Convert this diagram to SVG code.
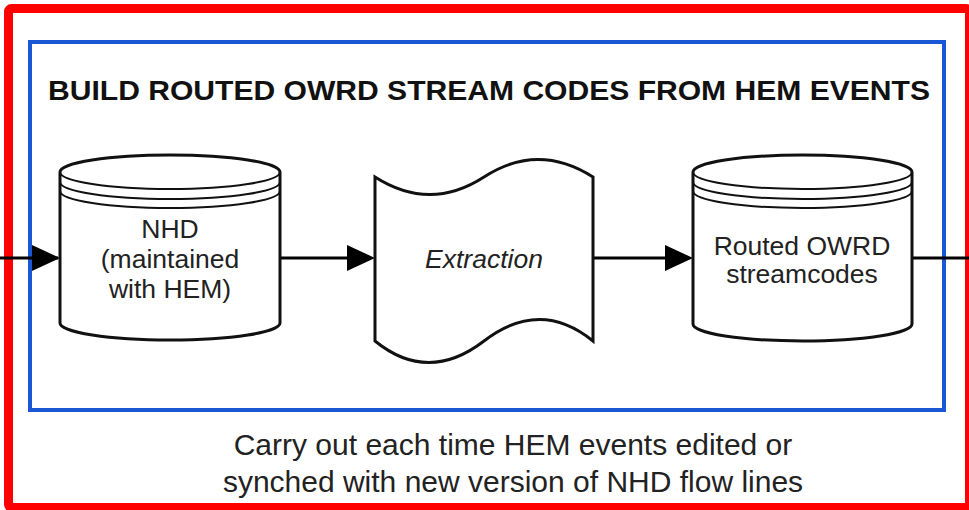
<svg xmlns="http://www.w3.org/2000/svg" width="969" height="510" viewBox="0 0 969 510">
<defs>
<style>
.shape{fill:#fff;stroke:#111;stroke-width:3}
.inner{fill:none;stroke:#111;stroke-width:2}
.lbl{font-family:"Liberation Sans",Arial,sans-serif;font-size:26.5px;fill:#222;text-anchor:middle}
.conn{stroke:#000;stroke-width:3;fill:none}
.head{fill:#000}
.note{font-family:"Liberation Sans",Arial,sans-serif;font-size:30px;fill:#222;text-anchor:middle}
</style>
</defs>
<rect width="969" height="510" fill="#fff"/>
<rect id="outer" x="8.5" y="8.5" width="961" height="499" rx="3" fill="none" stroke="#ff0000" stroke-width="9"/>
<rect id="frame" x="30" y="42" width="914" height="368" fill="none" stroke="#1a56d6" stroke-width="4"/>
<text x="489" y="100" font-family="'Liberation Sans',Arial,sans-serif" font-weight="bold" font-size="28" fill="#111" text-anchor="middle" textLength="882" lengthAdjust="spacingAndGlyphs">BUILD ROUTED OWRD STREAM CODES FROM HEM EVENTS</text>
<g id="connectors">
<line class="conn" x1="0" y1="258" x2="58" y2="258"/>
<path class="head" d="M32,245 L60,258 L32,271 Z"/>
<line class="conn" x1="280" y1="258" x2="350" y2="258"/>
<path class="head" d="M347,245 L375,258 L347,271 Z"/>
<line class="conn" x1="593" y1="258" x2="668" y2="258"/>
<path class="head" d="M665,245 L693,258 L665,271 Z"/>
<line class="conn" x1="912" y1="258" x2="969" y2="258"/>
</g>
<g id="nhd">
<path class="shape" d="M60,172 A110,17 0 0 1 280,172 L280,323 A110,17 0 0 1 60,323 Z"/>
<path class="inner" d="M60,172 A110,17 0 0 0 280,172"/>
<path class="inner" d="M60,182 A110,17 0 0 0 280,182"/>
<path class="inner" d="M60,191 A110,17 0 0 0 280,191"/>
<text class="lbl" x="170" y="238">NHD</text>
<text class="lbl" x="170" y="268">(maintained</text>
<text class="lbl" x="170" y="298">with HEM)</text>
</g>
<g id="extraction">
<path class="shape" d="M375,177 Q430,212 484,177 T593,177 L593,341 Q540,298 484,341 T375,341 Z"/>
<text class="lbl" x="484" y="268" font-style="italic">Extraction</text>
</g>
<g id="routed">
<path class="shape" d="M693,172 A109.5,17 0 0 1 912,172 L912,324 A109.5,17 0 0 1 693,324 Z"/>
<path class="inner" d="M693,172 A109.5,17 0 0 0 912,172"/>
<path class="inner" d="M693,182 A109.5,17 0 0 0 912,182"/>
<path class="inner" d="M693,191 A109.5,17 0 0 0 912,191"/>
<text class="lbl" x="802" y="255">Routed OWRD</text>
<text class="lbl" x="802" y="283">streamcodes</text>
</g>
<text class="note" x="513" y="455">Carry out each time HEM events edited or</text>
<text class="note" x="513" y="492">synched with new version of NHD flow lines</text>
</svg>
